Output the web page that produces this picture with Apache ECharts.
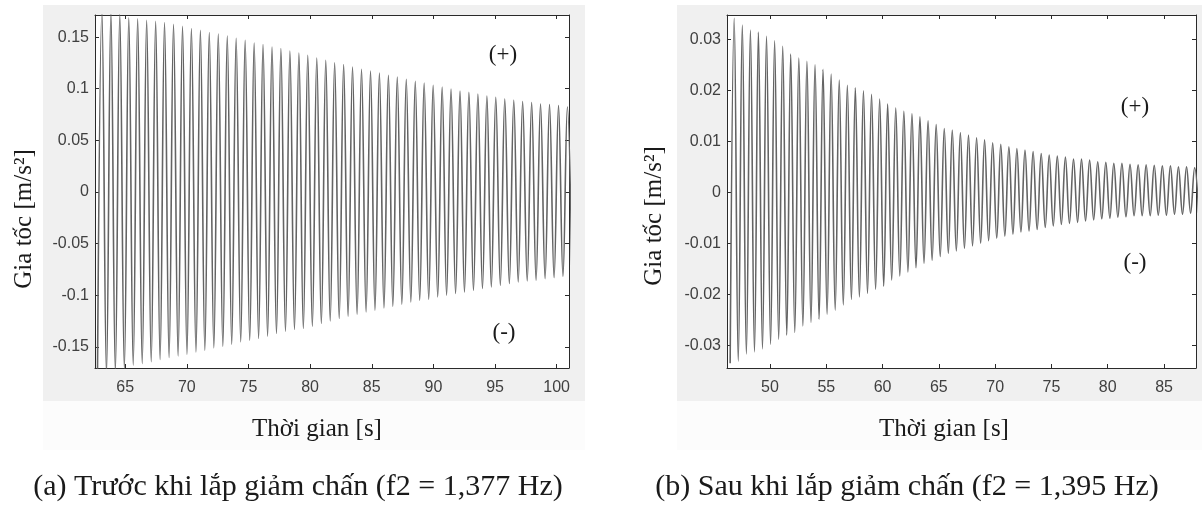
<!DOCTYPE html>
<html><head><meta charset="utf-8">
<script src="https://cdn.jsdelivr.net/npm/echarts@6/dist/echarts.min.js"></script>
<style>html,body{margin:0;padding:0;background:#fff}#c{width:1202px;height:508px}</style>
</head><body><div id="c"></div>
<script>
// ---------- Panel (a): before damper ----------
const xTicksA = [65, 70, 75, 80, 85, 90, 95, 100];
const yTicksA = [-0.15, -0.1, -0.05, 0, 0.05, 0.1, 0.15];
const peakTimesA = [63.11,63.84,64.56,65.29,66.01,66.74,67.47,68.19,68.92,69.65,70.37,71.10,71.82,72.55,73.28,74.00,74.73,75.46,76.18,76.91,77.63,78.36,79.09,79.81,80.54,81.27,81.99,82.72,83.44,84.17,84.90,85.62,86.35,87.07,87.80,88.53,89.25,89.98,90.71,91.43,92.16,92.88,93.61,94.34,95.06,95.79,96.52,97.24,97.97,98.69,99.42,100.15,100.87];
const peakValuesA = [0.175,0.174,0.172,0.1688,0.1678,0.1662,0.1652,0.164,0.1623,0.1604,0.1582,0.1565,0.1543,0.153,0.151,0.1488,0.1468,0.1442,0.1427,0.1404,0.1388,0.1365,0.1346,0.1323,0.1297,0.1275,0.1252,0.1233,0.121,0.1188,0.1171,0.1152,0.113,0.1113,0.1091,0.1072,0.1055,0.1033,0.1016,0.0997,0.0978,0.0965,0.0949,0.093,0.0917,0.09,0.0888,0.0875,0.0865,0.0852,0.0846,0.0836,0.0823];
const troughTimesA = [62.75,63.48,64.20,64.93,65.65,66.38,67.11,67.83,68.56,69.29,70.01,70.74,71.46,72.19,72.92,73.64,74.37,75.10,75.82,76.55,77.27,78.00,78.73,79.45,80.18,80.91,81.63,82.36,83.08,83.81,84.54,85.26,85.99,86.71,87.44,88.17,88.89,89.62,90.35,91.07,91.80,92.52,93.25,93.98,94.70,95.43,96.16,96.88,97.61,98.33,99.06,99.79,100.51,101.24];
const troughValuesA = [-0.178,-0.176,-0.174,-0.171,-0.1678,-0.1662,-0.1645,-0.1623,-0.1604,-0.1588,-0.1571,-0.1549,-0.1532,-0.151,-0.1494,-0.1474,-0.1452,-0.1436,-0.1419,-0.1397,-0.1371,-0.1349,-0.1332,-0.1323,-0.13,-0.1274,-0.1249,-0.1226,-0.1203,-0.1184,-0.1162,-0.1145,-0.1123,-0.1107,-0.1087,-0.1065,-0.1048,-0.1039,-0.1016,-0.1,-0.0984,-0.0968,-0.0952,-0.0935,-0.0919,-0.0903,-0.0887,-0.0871,-0.0861,-0.0855,-0.0839,-0.0829,-0.0816,-0.081];

// ---------- Panel (b): after damper ----------
const xTicksB = [50, 55, 60, 65, 70, 75, 80, 85];
const yTicksB = [-0.03, -0.02, -0.01, 0, 0.01, 0.02, 0.03];
const peakTimesB = [46.82,47.54,48.26,48.97,49.69,50.41,51.13,51.84,52.56,53.28,54.00,54.71,55.43,56.15,56.87,57.58,58.30,59.02,59.74,60.45,61.17,61.89,62.61,63.32,64.04,64.76,65.48,66.19,66.91,67.63,68.35,69.06,69.78,70.50,71.22,71.93,72.65,73.37,74.09,74.80,75.52,76.24,76.96,77.67,78.39,79.11,79.83,80.54,81.26,81.98,82.70,83.41,84.13,84.85,85.57,86.28,87.00,87.72];
const peakValuesB = [0.0341,0.0328,0.0318,0.0314,0.0306,0.0297,0.0286,0.0271,0.0263,0.0257,0.025,0.0241,0.0232,0.022,0.021,0.0205,0.0199,0.0192,0.0183,0.0173,0.0165,0.0159,0.0154,0.0148,0.014,0.0133,0.0125,0.0122,0.0117,0.0112,0.0107,0.0103,0.0097,0.0094,0.0089,0.0086,0.0083,0.008,0.0076,0.0073,0.0071,0.0069,0.0065,0.0065,0.0063,0.006,0.0059,0.0057,0.0057,0.0055,0.0054,0.0054,0.0053,0.0052,0.0052,0.005,0.005,0.0048];
const troughTimesB = [46.46,47.18,47.90,48.62,49.33,50.05,50.77,51.49,52.20,52.92,53.64,54.36,55.07,55.79,56.51,57.23,57.94,58.66,59.38,60.10,60.81,61.53,62.25,62.97,63.68,64.40,65.12,65.84,66.55,67.27,67.99,68.71,69.42,70.14,70.86,71.58,72.29,73.01,73.73,74.45,75.16,75.88,76.60,77.32,78.03,78.75,79.47,80.19,80.90,81.62,82.34,83.06,83.77,84.49,85.21,85.93,86.64,87.36,88.08];
const troughValuesB = [-0.0335,-0.0331,-0.0317,-0.0313,-0.0307,-0.0298,-0.0288,-0.028,-0.0275,-0.0262,-0.0255,-0.0249,-0.0239,-0.0231,-0.0221,-0.021,-0.0205,-0.0198,-0.019,-0.0184,-0.0172,-0.0164,-0.0156,-0.0148,-0.0139,-0.0133,-0.0126,-0.012,-0.0115,-0.011,-0.0105,-0.01,-0.0095,-0.009,-0.0086,-0.0082,-0.0078,-0.0076,-0.0073,-0.0069,-0.0066,-0.0063,-0.0061,-0.0059,-0.0056,-0.0054,-0.0052,-0.0051,-0.0049,-0.0048,-0.0046,-0.0046,-0.0046,-0.0045,-0.0045,-0.0043,-0.0043,-0.0041,-0.004];

const yTitle = 'Gia tốc [m/s²]';
const xTitle = 'Thời gian [s]';
const captionA = '(a) Trước khi lắp giảm chấn (f2 = 1,377 Hz)';
const captionB = '(b) Sau khi lắp giảm chấn (f2 = 1,395 Hz)';

function merge(t1, v1, t2, v2) {
  const pts = [];
  for (let i = 0; i < t1.length; i++) pts.push([t1[i], v1[i]]);
  for (let i = 0; i < t2.length; i++) pts.push([t2[i], v2[i]]);
  pts.sort((a, b) => a[0] - b[0]);
  return pts;
}
const dataA = merge(peakTimesA, peakValuesA, troughTimesA, troughValuesA);
const dataB = merge(peakTimesB, peakValuesB, troughTimesB, troughValuesB);

const SERIF = '"Liberation Serif", "Times New Roman", serif';
const SANS = '"Liberation Sans", Arial, Helvetica, sans-serif';
const AXC = '#2a2a2a';
const LBL = '#404040';
const fmt = v => String(parseFloat(Number(v).toFixed(4)));

function xAx(grid, min, max, ticks, pos) {
  const main = pos === 'bottom';
  return {
    type: 'value', gridIndex: grid, position: pos, min: min, max: max,
    axisLine: { show: true, onZero: false, lineStyle: { color: AXC, width: 1 } },
    axisTick: { show: true, inside: true, length: 4, customValues: ticks, lineStyle: { color: AXC } },
    axisLabel: { show: main, customValues: ticks, color: LBL, fontSize: 16, fontFamily: SANS, margin: 12, formatter: fmt },
    splitLine: { show: false }
  };
}
function yAx(grid, min, max, ticks, pos) {
  const main = pos === 'left';
  return {
    type: 'value', gridIndex: grid, position: pos, min: min, max: max,
    axisLine: { show: true, onZero: false, lineStyle: { color: AXC, width: 1 } },
    axisTick: { show: true, inside: true, length: 4, customValues: ticks, lineStyle: { color: AXC } },
    axisLabel: { show: main, customValues: ticks, color: LBL, fontSize: 16, fontFamily: SANS, margin: 6, formatter: fmt },
    splitLine: { show: false }
  };
}

function txt(x, y, text, size, rot) {
  return {
    type: 'text', x: x, y: y, rotation: rot || 0, z: 100,
    style: { text: text, fill: '#1a1a1a', font: size + 'px ' + SERIF, align: 'center', verticalAlign: 'middle' }
  };
}

const chart = echarts.init(document.getElementById('c'), null, { renderer: 'canvas' });
chart.setOption({
  animation: false,
  backgroundColor: '#ffffff',
  grid: [
    { left: 95, top: 15, width: 474, height: 353, show: true, backgroundColor: '#ffffff', borderWidth: 0 },
    { left: 727, top: 15, width: 469, height: 353, show: true, backgroundColor: '#ffffff', borderWidth: 0 }
  ],
  xAxis: [
    xAx(0, 62.55, 101.0, xTicksA, 'bottom'),
    xAx(0, 62.55, 101.0, xTicksA, 'top'),
    xAx(1, 46.18, 87.84, xTicksB, 'bottom'),
    xAx(1, 46.18, 87.84, xTicksB, 'top')
  ],
  yAxis: [
    yAx(0, -0.1705, 0.1714, yTicksA, 'left'),
    yAx(0, -0.1705, 0.1714, yTicksA, 'right'),
    yAx(1, -0.03445, 0.03476, yTicksB, 'left'),
    yAx(1, -0.03445, 0.03476, yTicksB, 'right')
  ],
  series: [
    { type: 'line', xAxisIndex: 0, yAxisIndex: 0, data: dataA, showSymbol: false, smooth: 0.4, clip: true,
      lineStyle: { color: '#646464', width: 1.6 }, silent: true },
    { type: 'line', xAxisIndex: 2, yAxisIndex: 2, data: dataB, showSymbol: false, smooth: 0.4, clip: true,
      lineStyle: { color: '#646464', width: 1.6 }, silent: true }
  ],
  graphic: [
    { type: 'rect', z: -100, shape: { x: 43, y: 5, width: 542, height: 396 }, style: { fill: '#f0f0f0' } },
    { type: 'rect', z: -100, shape: { x: 677, y: 5, width: 525, height: 396 }, style: { fill: '#f0f0f0' } },
    { type: 'rect', z: -100, shape: { x: 43, y: 401, width: 542, height: 49 }, style: { fill: '#fcfcfc' } },
    { type: 'rect', z: -100, shape: { x: 677, y: 401, width: 525, height: 49 }, style: { fill: '#fcfcfc' } },
    txt(24, 219, yTitle, 25, Math.PI / 2),
    txt(654, 216, yTitle, 25, Math.PI / 2),
    txt(317, 429, xTitle, 25),
    txt(944, 429, xTitle, 25),
    txt(298, 487, captionA, 30),
    txt(907, 487, captionB, 30),
    txt(503, 55, '(+)', 23),
    txt(504, 333, '(-)', 23),
    txt(1135, 107, '(+)', 23),
    txt(1135, 263, '(-)', 23)
  ]
});
</script>
</body></html>
